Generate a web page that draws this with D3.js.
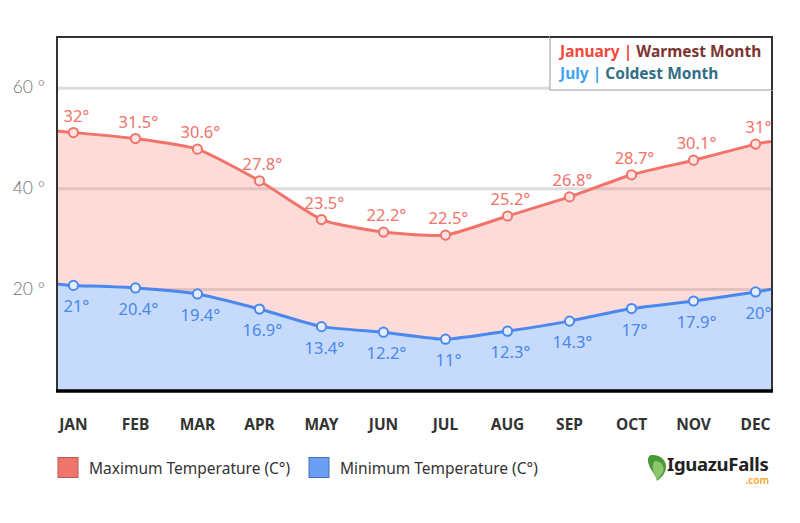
<!DOCTYPE html>
<html>
<head>
<meta charset="utf-8">
<script src="https://cdn.jsdelivr.net/npm/d3@7"></script>
<style>
  html, body { margin: 0; padding: 0; background: #fff; }
  svg { display: block; }
</style>
</head>
<body>
<div id="chart"></div>
<script>
// data
const months = ["JAN", "FEB", "MAR", "APR", "MAY", "JUN", "JUL", "AUG", "SEP", "OCT", "NOV", "DEC"]
const maxLabels = ["32", "31.5", "30.6", "27.8", "23.5", "22.2", "22.5", "25.2", "26.8", "28.7", "30.1", "31"]
const minLabels = ["21", "20.4", "19.4", "16.9", "13.4", "12.2", "11", "12.3", "14.3", "17", "17.9", "20"]
// heights the points are drawn at (the chart's own scale, not the labels)
const maxPlotted = [51.2, 50.0, 47.9, 41.6, 33.9, 31.4, 30.8, 34.6, 38.4, 42.8, 45.7, 48.9]
const minPlotted = [20.8, 20.3, 19.1, 16.1, 12.6, 11.5, 10.1, 11.7, 13.7, 16.2, 17.7, 19.5]
// where each line leaves the plot at the left and right edge
const maxEdges = [51.5, 49.4]
const minEdges = [21.1, 20.1]
const yTicks = [20, 40, 60]

const gc = {
    width: 800,
    height: 523,
    plot: { left: 57, right: 772, top: 37, bottom: 390 },
    max: { line: "#f2736a", fill: "rgba(242,115,106,0.26)", dot: "#fde4e2" },
    min: { line: "#4a88ee", fill: "#c6dafb", dot: "#e3edfd" },
    grid: "#dcdcdc",
    font: "'Noto Sans', 'Open Sans', sans-serif"
}

const svg = d3.select("#chart").append("svg")
    .attr("width", gc.width)
    .attr("height", gc.height)

const x = d3.scalePoint()
    .domain(months)
    .range([gc.plot.left, gc.plot.right])
    .padding(0.265)

const y = d3.scaleLinear()
    .domain([0, 70])
    .range([gc.plot.bottom, gc.plot.top + 1])

function series(values, edges) {
    const pts = values.map((v, i) => ({ x: x(months[i]), v: v }))
    return [{ x: gc.plot.left, v: edges[0] }].concat(pts, [{ x: gc.plot.right, v: edges[1] }])
}

const maxSeries = series(maxPlotted, maxEdges)
const minSeries = series(minPlotted, minEdges)
const band = maxSeries.map((d, i) => ({ x: d.x, hi: d.v, lo: minSeries[i].v }))

// gridlines
svg.append("g")
    .selectAll("line")
    .data(yTicks)
    .join("line")
    .attr("x1", gc.plot.left)
    .attr("x2", gc.plot.right)
    .attr("y1", d => y(d))
    .attr("y2", d => y(d))
    .style("stroke", gc.grid)
    .style("stroke-width", 3)

// y tick labels
svg.append("g")
    .selectAll("text")
    .data(yTicks)
    .join("text")
    .attr("x", 45)
    .attr("y", d => y(d) - 1)
    .attr("dy", "0.35em")
    .attr("text-anchor", "end")
    .style("font-family", "Lato, sans-serif")
    .style("font-weight", 300)
    .style("font-size", "17.5px")
    .style("fill", "#707070")
    .text(d => d + " °")

const curve = d3.curveCardinal.tension(0.45)

// pink band between the two lines
svg.append("path")
    .datum(band)
    .attr("d", d3.area().curve(curve).x(d => d.x).y0(d => y(d.lo)).y1(d => y(d.hi)))
    .style("fill", gc.max.fill)

// blue area under the min line
svg.append("path")
    .datum(minSeries)
    .attr("d", d3.area().curve(curve).x(d => d.x).y0(y(0)).y1(d => y(d.v)))
    .style("fill", gc.min.fill)

const line = d3.line().curve(curve).x(d => d.x).y(d => y(d.v))

function drawSeries(data, values, labels, style, above) {
    const g = svg.append("g")
    g.append("path")
        .datum(data)
        .attr("d", line)
        .style("fill", "none")
        .style("stroke", style.line)
        .style("stroke-width", 3)

    g.selectAll("circle")
        .data(values)
        .join("circle")
        .attr("cx", (d, i) => x(months[i]))
        .attr("cy", d => y(d))
        .attr("r", 4.6)
        .style("fill", style.dot)
        .style("stroke", style.line)
        .style("stroke-width", 2)

    g.selectAll("text")
        .data(values)
        .join("text")
        .attr("x", (d, i) => x(months[i]) + 3)
        .attr("y", d => y(d) + (above ? -11 : 27))
        .attr("text-anchor", "middle")
        .style("font-family", gc.font)
        .style("font-size", "16.5px")
        .style("fill", style.line)
        .text((d, i) => labels[i] + "°")
}

drawSeries(maxSeries, maxPlotted, maxLabels, gc.max, true)
drawSeries(minSeries, minPlotted, minLabels, gc.min, false)

// frame
svg.append("path")
    .attr("d", `M${gc.plot.left},${gc.plot.bottom} V${gc.plot.top} H${gc.plot.right} V${gc.plot.bottom}`)
    .style("fill", "none")
    .style("stroke", "#333")
    .style("stroke-width", 2)

svg.append("line")
    .attr("x1", gc.plot.left - 1)
    .attr("x2", gc.plot.right + 1)
    .attr("y1", gc.plot.bottom + 1)
    .attr("y2", gc.plot.bottom + 1)
    .style("stroke", "#000")
    .style("stroke-width", 3.5)

// x axis labels
svg.append("g")
    .selectAll("text")
    .data(months)
    .join("text")
    .attr("x", d => x(d))
    .attr("y", 430)
    .attr("text-anchor", "middle")
    .style("font-family", gc.font)
    .style("font-weight", 700)
    .style("font-size", "15.5px")
    .style("fill", "#333")
    .text(d => d)

// note box top right
const note = svg.append("g")
note.append("rect")
    .attr("x", 550)
    .attr("y", gc.plot.top)
    .attr("width", gc.plot.right - 550)
    .attr("height", 53)
    .style("fill", "#fff")
    .style("stroke", "#bbb")
    .style("stroke-width", 1.5)

const notes = [
    { a: "January | ", b: "Warmest Month", ca: "#f4473b", cb: "#7d3431", y: 57 },
    { a: "July | ", b: "Coldest Month", ca: "#3fa3f2", cb: "#2f6e86", y: 79 }
]
notes.forEach(n => {
    const t = note.append("text")
        .attr("x", 560)
        .attr("y", n.y)
        .style("font-family", gc.font)
        .style("font-weight", 700)
        .style("font-size", "15.5px")
    t.append("tspan").style("fill", n.ca).text(n.a)
    t.append("tspan").style("fill", n.cb).text(n.b)
})
// redraw the frame corner over the box
svg.append("path")
    .attr("d", `M550,${gc.plot.top} H${gc.plot.right} V90`)
    .style("fill", "none")
    .style("stroke", "#333")
    .style("stroke-width", 2)

// legend
const legend = [
    { label: "Maximum Temperature (C°)", fill: "#f0766c", stroke: "#b85b54", x: 58 },
    { label: "Minimum Temperature (C°)", fill: "#6a9ef5", stroke: "#4a6fb0", x: 309 }
]
const lg = svg.append("g")
legend.forEach(l => {
    lg.append("rect")
        .attr("x", l.x)
        .attr("y", 457.5)
        .attr("width", 20)
        .attr("height", 20)
        .style("fill", l.fill)
        .style("stroke", l.stroke)
        .style("stroke-width", 1)
    lg.append("text")
        .attr("x", l.x + 31)
        .attr("y", 473.5)
        .style("font-family", gc.font)
        .style("font-size", "15.5px")
        .style("fill", "#333")
        .text(l.label)
})

// logo
const logo = svg.append("g")
logo.append("path")
    .attr("d", "M651,455 C660,454 667,460 666,468 C665,474 661,478 657,481 C656,475 651,471 649,465 C647,460 648,456 651,455 Z")
    .style("fill", "#4a9a3c")
logo.append("path")
    .attr("d", "M656,461 C662,462 665,467 663,472 C661,476 658,478 657,480 C655,474 652,470 653,465 C653,463 654,461 656,461 Z")
    .style("fill", "#8cc76a")
logo.append("text")
    .attr("x", 667)
    .attr("y", 471)
    .style("font-family", gc.font)
    .style("font-weight", 700)
    .style("font-size", "18.5px")
    .style("letter-spacing", "-0.3px")
    .style("fill", "#222")
    .text("IguazuFalls")
logo.append("text")
    .attr("x", 769)
    .attr("y", 484)
    .attr("text-anchor", "end")
    .style("font-family", gc.font)
    .style("font-weight", 600)
    .style("font-size", "10px")
    .style("fill", "#f5a31a")
    .text(".com")
</script>
</body>
</html>
